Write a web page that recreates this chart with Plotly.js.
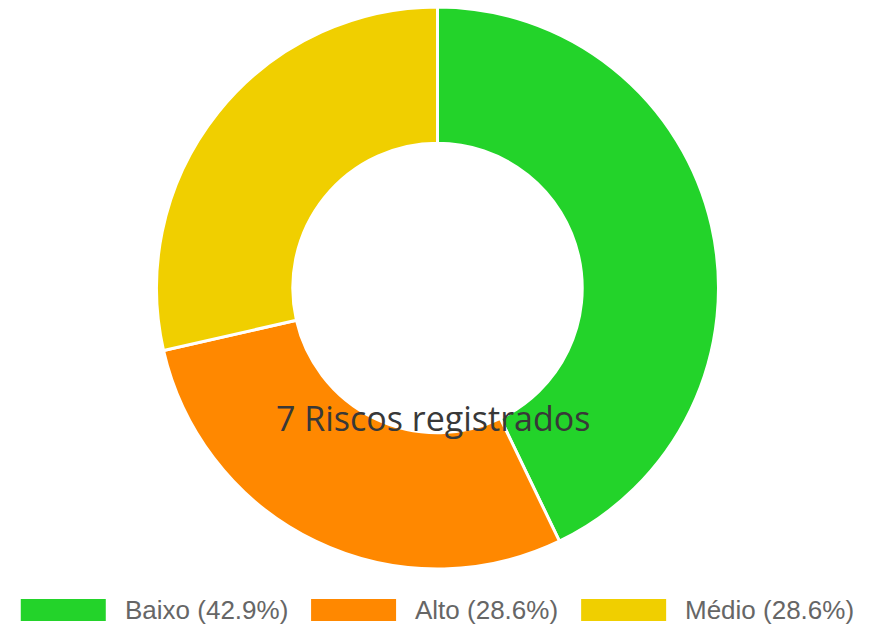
<!DOCTYPE html>
<html>
<head>
<meta charset="utf-8">
<script src="https://cdn.plot.ly/plotly-3.0.1.min.js"></script>
<style>
html,body{margin:0;padding:0;background:#fff;}
#chart{width:881px;height:628px;}
</style>
</head>
<body>
<div id="chart"></div>
<script>
// Data
const categories = ["Baixo", "Alto", "Médio"];
const values = [3, 2, 2];
const colors = ["#23d32a", "#ff8800", "#f0cf00"];
const centerLabel = "Riscos registrados";

const W = 881, H = 628;
const total = values.reduce((a, b) => a + b, 0);
const pct = values.map(v => (v / total * 100).toFixed(1) + "%");
const legendLabels = categories.map((c, i) => c + " (" + pct[i] + ")");

// donut geometry (pixels)
const cx = 437.5, cy = 288, R = 281;

const trace = {
  type: "pie",
  labels: categories,
  values: values,
  hole: 0.515,
  sort: false,
  direction: "clockwise",
  rotation: 0,
  textinfo: "none",
  hoverinfo: "label+value+percent",
  marker: { colors: colors, line: { color: "#ffffff", width: 3 } },
  domain: {
    x: [(cx - R) / W, (cx + R) / W],
    y: [(H - (cy + R)) / H, (H - (cy - R)) / H]
  },
  showlegend: false
};

// custom legend (Chart.js style)
const legendFont = "26px 'Liberation Sans', Arial, sans-serif";
const ctx = document.createElement("canvas").getContext("2d");
ctx.font = legendFont;
const boxW = 85, boxH = 22, textGap = 17, itemGap = 25;
const widths = legendLabels.map(t => ctx.measureText(t).width);
const totalW = widths.reduce((s, w) => s + boxW + textGap + w, 0) + itemGap * (widths.length - 1);
let x0 = 436.5 - totalW / 2;
const legY = 610;
const shapes = [], annotations = [];
legendLabels.forEach((t, i) => {
  shapes.push({
    type: "rect", xref: "paper", yref: "paper",
    x0: x0 / W, x1: (x0 + boxW) / W,
    y0: (H - (legY + boxH / 2)) / H, y1: (H - (legY - boxH / 2)) / H,
    fillcolor: colors[i], line: { width: 0 }
  });
  annotations.push({
    xref: "paper", yref: "paper",
    x: (x0 + boxW + textGap) / W, y: (H - legY) / H,
    xanchor: "left", yanchor: "middle",
    text: t, showarrow: false,
    font: { family: "Liberation Sans, Arial, sans-serif", size: 26, color: "#666666" }
  });
  x0 += boxW + textGap + widths[i] + itemGap;
});

annotations.push({
  xref: "paper", yref: "paper",
  x: 433 / W, y: (H - 418) / H,
  xanchor: "center", yanchor: "middle",
  text: total + " " + centerLabel, showarrow: false,
  font: { family: "Open Sans, Noto Sans, sans-serif", size: 34, color: "#383838" }
});

const layout = {
  width: W, height: H,
  margin: { l: 0, r: 0, t: 0, b: 0 },
  paper_bgcolor: "#ffffff",
  plot_bgcolor: "#ffffff",
  showlegend: false,
  shapes: shapes,
  annotations: annotations
};

Plotly.newPlot("chart", [trace], layout, { displayModeBar: false, staticPlot: true });
</script>
</body>
</html>
